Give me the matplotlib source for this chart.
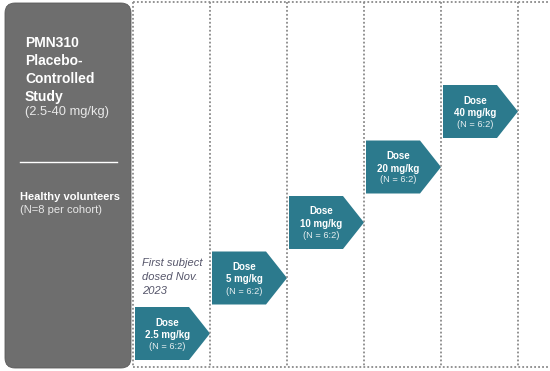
import matplotlib
matplotlib.use("Agg")
import matplotlib.pyplot as plt
from matplotlib.patches import FancyBboxPatch, Polygon

plt.rcParams["font.family"] = ["Liberation Sans", "DejaVu Sans"]

# cohort data
doses = ["2.5 mg/kg", "5 mg/kg", "10 mg/kg", "20 mg/kg", "40 mg/kg"]
n_labels = ["(N = 6:2)"] * 5
study_title = ["PMN310", "Placebo-", "Controlled", "Study"]
study_range = "(2.5-40 mg/kg)"
population = "Healthy volunteers"
population_n = "(N=8 per cohort)"
note = "First subject\ndosed Nov.\n2023"

TEAL = "#2c7a8d"
PANEL = "#6e6e6e"
DOT = "#8a8a8a"

fig = plt.figure(figsize=(5.5, 3.71), dpi=100)
ax = fig.add_axes([0, 0, 1, 1])
ax.set_xlim(0, 550)
ax.set_ylim(371, 0)
ax.axis("off")

# left panel
ax.add_patch(FancyBboxPatch((5, 3), 126, 365, boxstyle="round,pad=0,rounding_size=10",
                            fc=PANEL, ec="#5a5a5a", lw=0.6))
y = 43
for line in study_title:
    ax.text(25, y, line, color="white", fontsize=10, fontweight="bold", va="center", ha="left")
    y += 18
ax.text(25, 112, study_range, color="#e8e8e8", fontsize=9.3, va="center", ha="left")
ax.plot([20, 117], [162, 162], color="white", lw=1)
ax.text(20, 197, population, color="white", fontsize=8, fontweight="bold", va="center", ha="left")
ax.text(20, 210, population_n, color="#e8e8e8", fontsize=8, va="center", ha="left")

# dotted grid
x0, w = 133, 77
for k in range(6):
    ax.plot([x0 + k * w, x0 + k * w], [2, 367], color=DOT, lw=1.3, ls=(0, (1, 1.2)))
ax.plot([x0, 550], [2, 2], color=DOT, lw=1.3, ls=(0, (1, 1.2)))
ax.plot([x0, 550], [367, 367], color=DOT, lw=1.3, ls=(0, (1, 1.2)))

# dose arrows
step, h = 55.5, 53
for i, (dose, nl) in enumerate(zip(doses, n_labels)):
    left = x0 + i * w + 2
    tip = x0 + (i + 1) * w
    shoulder = tip - 21
    bottom = 360 - i * step
    top = bottom - h
    mid = (top + bottom) / 2
    ax.add_patch(Polygon([(left, top), (shoulder, top), (tip, mid), (shoulder, bottom), (left, bottom)],
                         closed=True, fc=TEAL, ec="none"))
    cx = (left + tip) / 2 - 5
    ax.text(cx, mid - 11, "Dose", color="white", fontsize=7, fontweight="bold", ha="center", va="center")
    ax.text(cx, mid + 1.5, dose, color="white", fontsize=7, fontweight="bold", ha="center", va="center")
    ax.text(cx, mid + 13, nl, color="#e6eef0", fontsize=6.7, ha="center", va="center")

ax.text(142, 277, note, color="#55556a", fontsize=8, style="italic", ha="left", va="center",
        linespacing=1.45)

fig.savefig("out.png", dpi=100, facecolor="white")
